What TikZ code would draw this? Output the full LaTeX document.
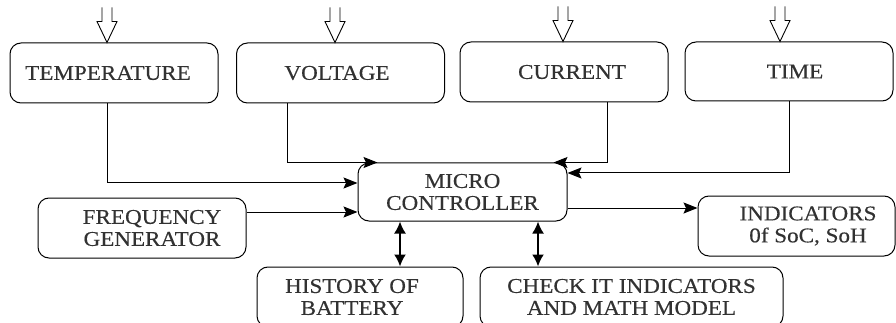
\documentclass[tikz,border=0pt]{standalone}
\usepackage{fontspec}
\setmainfont[FakeStretch=1.1,FakeBold=0.35]{Liberation Serif}
\usetikzlibrary{arrows.meta,calc}
\definecolor{txtc}{RGB}{50,50,50}
\newcommand\inarrow[1]{\draw[inarr] ($(#1)+(-5pt,35pt)$) -- ++(0,-14pt) -- ++(-5pt,0) -- (#1) -- ++(10pt,21pt) -- ++(-5pt,0) -- ++(0,14pt);}
\begin{document}
\begin{tikzpicture}[x=1pt,y=-1pt,
 box/.style={draw, line width=1pt, rounded corners=11pt, minimum width=208pt, minimum height=60pt, inner sep=0pt, align=center, text=txtc, font=\fontsize{21}{22}\selectfont},
 conn/.style={line width=1pt, -{Stealth[length=14pt,width=11pt,inset=2.5pt]}},
 bidir/.style={line width=2pt, {Latex[length=12pt,width=12pt]}-{Latex[length=12pt,width=12pt]}},
 inarr/.style={line width=0.9pt, line join=miter}]
\path[use as bounding box, clip] (0,0) rectangle (896,323);

\node[box] (temp) at (114,73) {TEMPERATURE\hspace*{12pt}};
\node[box] (volt) at (340.5,73) {VOLTAGE\hspace*{7pt}};
\node[box] (curr) at (564,72) {\hspace*{16pt}CURRENT};
\node[box, minimum height=59pt] (time) at (789,71.5) {\hspace*{12pt}TIME};
\node[box, minimum width=209pt, minimum height=58pt] (mc) at (462.5,192) {MICRO\\CONTROLLER};
\node[box] (freq) at (142,228) {\hspace*{20pt}FREQUENCY\\\hspace*{20pt}GENERATOR};
\node[box, minimum width=206pt] (hist) at (360,297) {HISTORY OF\hspace*{16pt}\\BATTERY\hspace*{16pt}};
\node[box, minimum width=303pt] (chk) at (631.5,297) {CHECK IT INDICATORS\\AND MATH MODEL};
\node[box, minimum width=197pt] (ind) at (796.5,226) {\hspace*{23pt}INDICATORS\\\hspace*{23pt}0f SoC, SoH};

\coordinate (ti) at ([xshift=-7pt]temp.north);
\coordinate (vi) at ([xshift=-5.5pt]volt.north);
\coordinate (ci) at ([xshift=-1pt]curr.north);
\coordinate (mi) at ([xshift=-9pt]time.north);
\inarrow{ti}
\inarrow{vi}
\inarrow{ci}
\inarrow{mi}

\draw[conn] ([xshift=-7pt]temp.south) |- ([yshift=9pt]mc.west);
\draw[conn] ([xshift=-53.5pt]volt.south) |- ([xshift=20pt]mc.north west);
\draw[conn] ([xshift=43pt]curr.south) |- ([xshift=-14pt]mc.north east);
\draw[conn] (time.south) |- ([yshift=19pt]mc.east);
\draw[conn] ([yshift=16pt]freq.east) -- ([yshift=-20pt]mc.west);
\draw[conn] ([yshift=-16pt]mc.east) -- ([yshift=18pt]ind.west);
\draw[bidir] ([xshift=-62.5pt]mc.south) -- ([xshift=40pt]hist.north);
\draw[bidir] ([xshift=75.5pt]mc.south) -- ([xshift=-93.5pt]chk.north);
\end{tikzpicture}
\end{document}
